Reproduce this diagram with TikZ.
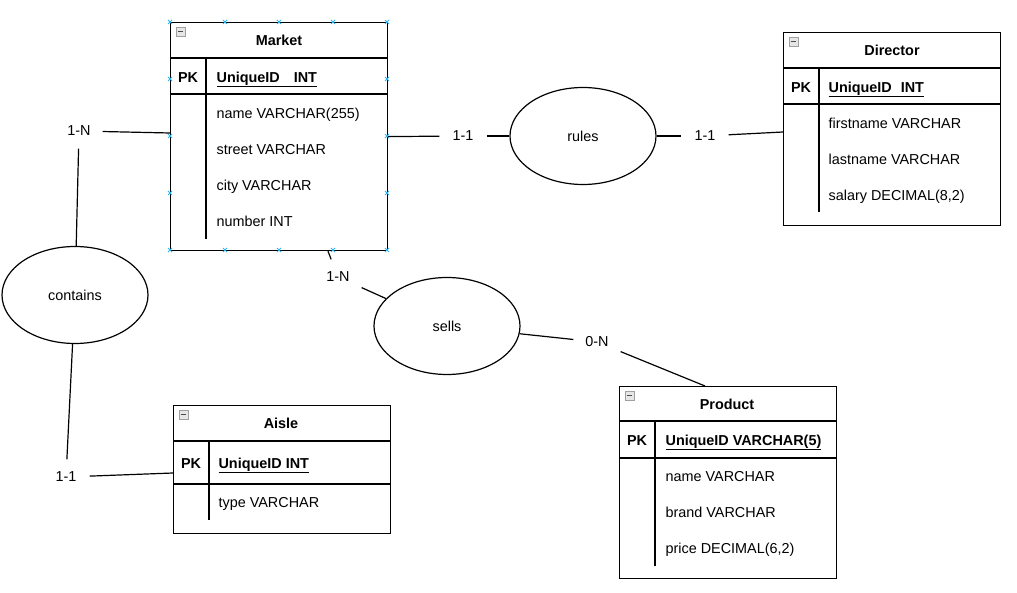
\documentclass[tikz,border=0pt]{standalone}
\usepackage{fontspec}
\setmainfont{Liberation Sans}
\usetikzlibrary{shapes.geometric,calc}
\definecolor{handleblue}{HTML}{29B6F2}
\definecolor{icongray}{HTML}{E6E6E6}
\definecolor{iconedge}{HTML}{A0A0A0}
\begin{document}
\begin{tikzpicture}[x=1pt,y=-1pt, line width=1.2pt,
  font=\fontsize{14.4}{17}\selectfont,
  tbl/.style={draw, rectangle, inner sep=0pt, anchor=north west},
  rel/.style={draw, ellipse, minimum width=146pt, minimum height=97pt, inner sep=0pt},
  card/.style={minimum width=46pt, minimum height=34pt, inner sep=0pt},
  txt/.style={inner sep=0pt, text height=10.4pt, text depth=0pt},
  attr/.style={txt, anchor=west},
  ttl/.style={txt, font=\fontsize{14.4}{17}\selectfont\bfseries},
  keyattr/.style={attr, font=\fontsize{14.4}{17}\selectfont\bfseries},
  icon/.style={draw=iconedge, fill=icongray, line width=0.6pt, minimum size=9pt, inner sep=0pt,
    path picture={\draw[line width=1.2pt, black!70]
      ($(path picture bounding box.west)+(1.8,0)$) -- ($(path picture bounding box.east)+(-1.8,0)$);}},
  handle/.style={draw=handleblue, line width=0.9pt},
]
\useasboundingbox (0,0) rectangle (1017,593);

% ---------------- Market ----------------
\node[tbl, minimum width=217pt, minimum height=228pt] (market) at (170,22) {};
\draw (170,58) -- (387,58);
\draw (170,94) -- (387,94);
\draw (206,58) -- (206,239);
\node[icon] (marketIcon) at (180.5,31.5) {};
\node[ttl] (marketT) at (279,40) {Market};
\node[ttl] (marketPK) at (188,77) {PK};
\node[keyattr] (marketID) at (216,77) {\underline{UniqueID\hspace{14pt}INT}};
\node[attr] (marketA1) at (216,113) {name VARCHAR(255)};
\node[attr] (marketA2) at (216,149) {street VARCHAR};
\node[attr] (marketA3) at (216,185) {city VARCHAR};
\node[attr] (marketA4) at (216,221) {number INT};
\foreach \x in {170,225,279,333,387} {
  \draw[handle] (\x-2,20) -- (\x+2,24) (\x-2,24) -- (\x+2,20);
  \draw[handle] (\x-2,248) -- (\x+2,252) (\x-2,252) -- (\x+2,248);
}
\foreach \y in {79,136,193} {
  \draw[handle] (168,\y-2) -- (172,\y+2) (168,\y+2) -- (172,\y-2);
  \draw[handle] (385,\y-2) -- (389,\y+2) (385,\y+2) -- (389,\y-2);
}

% ---------------- Director ----------------
\node[tbl, minimum width=217pt, minimum height=193pt] (director) at (783,32) {};
\draw (783,68) -- (1000,68);
\draw (783,104) -- (1000,104);
\draw (819,68) -- (819,212);
\node[icon] (directorIcon) at (793.5,41.5) {};
\node[ttl] (directorT) at (892,50) {Director};
\node[ttl] (directorPK) at (801,87) {PK};
\node[keyattr] (directorID) at (828,87) {\underline{UniqueID\hspace{9pt}INT}};
\node[attr] (directorA1) at (828,123) {firstname VARCHAR};
\node[attr] (directorA2) at (828,159) {lastname VARCHAR};
\node[attr] (directorA3) at (828,195) {salary DECIMAL(8,2)};

% ---------------- Aisle ----------------
\node[tbl, minimum width=217pt, minimum height=128pt] (aisle) at (173,405) {};
\draw (173,441) -- (390,441);
\draw (173,484) -- (390,484);
\draw (209,441) -- (209,520);
\node[icon] (aisleIcon) at (183.5,414.5) {};
\node[ttl] (aisleT) at (281,423) {Aisle};
\node[ttl] (aislePK) at (191,463) {PK};
\node[keyattr] (aisleID) at (218,463) {\underline{UniqueID INT}};
\node[attr] (aisleA1) at (218,502) {type VARCHAR};

% ---------------- Product ----------------
\node[tbl, minimum width=217pt, minimum height=192pt] (product) at (619,386) {};
\draw (619,421) -- (836,421);
\draw (619,458) -- (836,458);
\draw (655,421) -- (655,566);
\node[icon] (productIcon) at (629.5,395.5) {};
\node[ttl] (productT) at (727,404) {Product};
\node[ttl] (productPK) at (637,440) {PK};
\node[keyattr] (productID) at (665,440) {\underline{UniqueID VARCHAR(5)}};
\node[attr] (productA1) at (665,476) {name VARCHAR};
\node[attr] (productA2) at (665,512) {brand VARCHAR};
\node[attr] (productA3) at (665,548) {price DECIMAL(6,2)};

% ---------------- Relationships ----------------
\node[rel] (contains) at (75,295) {contains};
\node[rel] (rules) at (583,136) {rules};
\node[rel] (sells) at (447,326) {sells};

% ---------------- Cardinalities ----------------
\node[card] (c1) at (79,131) {1-N};
\node[card] (c2) at (66,477) {1-1};
\node[card] (c3) at (463,136) {1-1};
\node[card] (c4) at (705,136) {1-1};
\node[card] (c5) at (338,277) {1-N};
\node[card] (c6) at (597,342) {0-N};

% ---------------- Connectors ----------------
\coordinate (mW) at ($(market.north west)+(0,111)$);
\coordinate (mS) at ($(market.south west)+(158,0)$);
\coordinate (aW) at ($(aisle.north west)+(0,68)$);
\coordinate (dW) at ($(director.north west)+(0,100)$);
\coordinate (pN) at ($(product.north west)+(86,0)$);

\draw (mW) -- (c1);
\draw (c1) -- (contains);
\draw (contains) -- (c2);
\draw (c2) -- (aW);
\draw (market.east) -- (c3);
\draw (c3) -- (rules);
\draw (rules) -- (c4);
\draw (c4) -- (dW);
\draw (mS) -- (c5);
\draw (c5) -- (sells);
\draw (sells) -- (c6);
\draw (c6) -- (pN);
\end{tikzpicture}
\end{document}
